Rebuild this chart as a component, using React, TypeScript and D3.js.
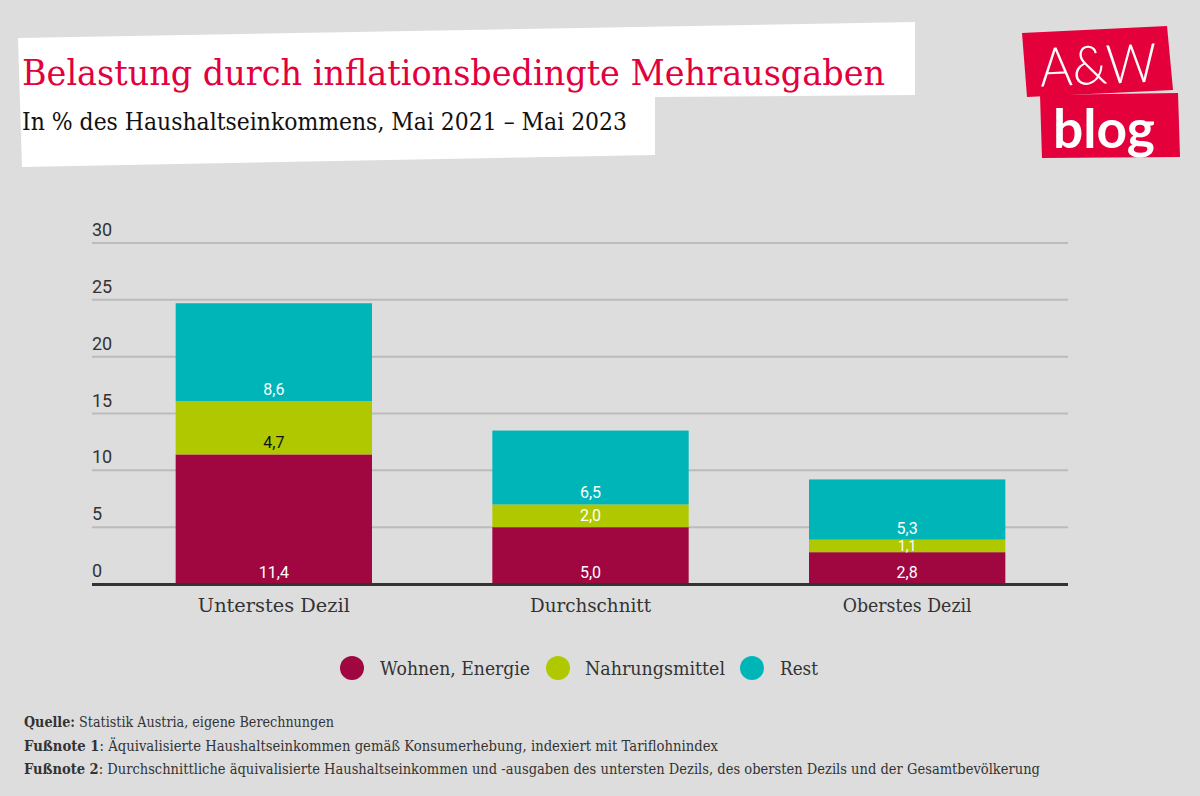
import React from "react";
import * as d3 from "d3";

const categories = ["Unterstes Dezil", "Durchschnitt", "Oberstes Dezil"];
const seriesNames = ["Wohnen, Energie", "Nahrungsmittel", "Rest"];
const wohnen = [11.4, 5.0, 2.8];
const nahrung = [4.7, 2.0, 1.1];
const rest = [8.6, 6.5, 5.3];
const yTicks = [0, 5, 10, 15, 20, 25, 30];
const colors = ["#a0063f", "#afc800", "#00b5b8"];
const labelColors = [["#ffffff", "#ffffff", "#ffffff"], ["#111111", "#ffffff", "#ffffff"], ["#ffffff", "#ffffff", "#ffffff"]];

const W = 1200;
const H = 796;
const serif = "'DejaVu Serif', serif";
const sans = "Roboto, 'Noto Sans', sans-serif";

export default function App() {
  const y = d3.scaleLinear().domain([0, 30]).range([584, 243]);
  const x = d3.scaleBand<string>().domain(categories).range([115.5, 1065.5]).paddingInner(0.38).paddingOuter(0.19);
  const rows = categories.map((c, i) => ({ cat: c, w: wohnen[i], n: nahrung[i], r: rest[i] }));
  const stack = d3.stack<any>().keys(["w", "n", "r"])(rows);

  return (
    <svg width={W} height={H} style={{ display: "block", position: "absolute", left: 0, top: 0 }}>
      <rect x={0} y={0} width={W} height={H} fill="#dddddd" />
      {/* title box */}
      <polygon points="18,38 915,22 915,95 655,97 655,155 22,167" fill="#ffffff" />
      <text x={22} y={85} fontFamily={serif} fontSize={36} fill="#e2003d" textLength={863} lengthAdjust="spacingAndGlyphs">
        Belastung durch inflationsbedingte Mehrausgaben
      </text>
      <text x={22} y={130} fontFamily={serif} fontSize={25} fill="#111111" textLength={605} lengthAdjust="spacingAndGlyphs">
        In % des Haushaltseinkommens, Mai 2021 – Mai 2023
      </text>
      {/* logo */}
      <polygon points="1022,33 1167,26 1173,90 1027,97" fill="#e3003b" />
      <polygon points="1040,95 1178,93 1180,157 1042,158" fill="#e3003b" />
      <text x={1098} y={84} textAnchor="middle" fontFamily="Lato, sans-serif" fontWeight={300} fontSize={54} fill="#ffffff" textLength={117} lengthAdjust="spacingAndGlyphs" transform="rotate(-2.5 1098 60)">
        A&amp;W
      </text>
      <text x={1104} y={148} textAnchor="middle" fontFamily="Lato, sans-serif" fontWeight={700} fontSize={54} fill="#ffffff" textLength={102} lengthAdjust="spacingAndGlyphs">
        blog
      </text>
      {/* grid */}
      {yTicks.map((t) => (
        <g key={t}>
          {t !== 0 && <line x1={92} x2={1068} y1={y(t)} y2={y(t)} stroke="#bbbbbb" strokeWidth={2} />}
          <text x={92} y={y(t) - 7} fontFamily={sans} fontSize={18} fill="#333333">
            {t}
          </text>
        </g>
      ))}
      {/* bars */}
      {stack.map((s, si) => (
        <g key={si}>
          {s.map((d, i) => (
            <rect key={i} x={x(categories[i])} y={y(d[1])} width={x.bandwidth()} height={y(d[0]) - y(d[1])} fill={colors[si]} />
          ))}
        </g>
      ))}
      {stack.map((s, si) => (
        <g key={"l" + si}>
          {s.map((d, i) => {
            const small = d[1] - d[0] < 1.5;
            return (
              <text key={i} x={(x(categories[i]) as number) + x.bandwidth() / 2} y={y(d[0]) - (small ? 1.5 : 6)} textAnchor="middle" fontFamily={sans} fontSize={small ? 14 : 16} fill={labelColors[si][i]}>
                {(d[1] - d[0]).toFixed(1).replace(".", ",")}
              </text>
            );
          })}
        </g>
      ))}
      <line x1={92} x2={1068} y1={584.5} y2={584.5} stroke="#333333" strokeWidth={3} />
      {categories.map((c) => (
        <text key={c} x={(x(c) as number) + x.bandwidth() / 2} y={612} textAnchor="middle" fontFamily={serif} fontSize={18} fill="#333333" textLength={c === "Unterstes Dezil" ? 152 : c === "Durchschnitt" ? 121 : 129} lengthAdjust="spacingAndGlyphs">
          {c}
        </text>
      ))}
      {/* legend */}
      {seriesNames.map((n, i) => {
        const cx = [352, 558, 752][i];
        const tx = [380, 585, 780][i];
        const tl = [150, 140, 38][i];
        return (
          <g key={n}>
            <circle cx={cx} cy={668} r={12} fill={colors[i]} />
            <text x={tx} y={675} fontFamily={serif} fontSize={18} fill="#333333" textLength={tl} lengthAdjust="spacingAndGlyphs">
              {n}
            </text>
          </g>
        );
      })}
      {/* footnotes */}
      <text x={24} y={727} fontFamily={serif} fontSize={14} fill="#333333" textLength={310} lengthAdjust="spacingAndGlyphs">
        <tspan fontWeight="bold">Quelle:</tspan> Statistik Austria, eigene Berechnungen
      </text>
      <text x={24} y={751} fontFamily={serif} fontSize={14} fill="#333333" textLength={694} lengthAdjust="spacingAndGlyphs">
        <tspan fontWeight="bold">Fußnote 1</tspan>: Äquivalisierte Haushaltseinkommen gemäß Konsumerhebung, indexiert mit Tariflohnindex
      </text>
      <text x={24} y={774} fontFamily={serif} fontSize={14} fill="#333333" textLength={1016} lengthAdjust="spacingAndGlyphs">
        <tspan fontWeight="bold">Fußnote 2</tspan>: Durchschnittliche äquivalisierte Haushaltseinkommen und -ausgaben des untersten Dezils, des obersten Dezils und der Gesamtbevölkerung
      </text>
    </svg>
  );
}
